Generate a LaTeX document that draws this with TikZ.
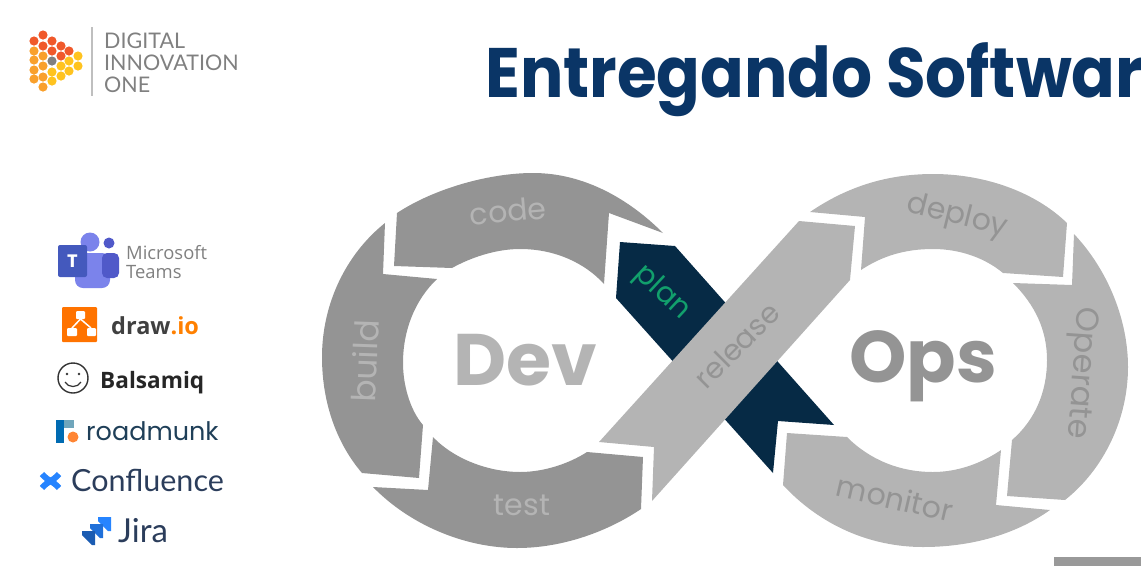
\documentclass[tikz,border=0pt]{standalone}
\usepackage{fontspec}
\setmainfont{Poppins}
\newfontfamily\lato{Lato}
\newfontfamily\opensans{Open Sans}
\definecolor{segdark}{HTML}{949494}
\definecolor{seglight}{HTML}{B4B4B4}
\definecolor{navy}{HTML}{062A45}
\definecolor{planGreen}{HTML}{12A06C}
\definecolor{titleBlue}{HTML}{0A3566}
\definecolor{logoRed}{HTML}{F0592B}
\definecolor{logoOrange}{HTML}{F9A02C}
\definecolor{logoYellow}{HTML}{FFC31F}
\definecolor{teamsLight}{HTML}{7B83EB}
\definecolor{teamsDark}{HTML}{5059C9}
\definecolor{teamsSquare}{HTML}{4459BD}
\definecolor{atlasText}{HTML}{2B3D5B}
\definecolor{atlasBlue}{HTML}{2684FF}
\newcommand{\fsize}[1]{\fontsize{#1}{#1}\selectfont}
\tikzset{
    seglabel/.style={inner sep=0pt, font=\fsize{30}},
    toolname/.style={anchor=base west, inner sep=0pt},
}
\begin{document}
\begin{tikzpicture}[x=1pt, y=-1pt]
    \useasboundingbox (0,0) rectangle (1141,566);

    % logo
    \foreach \px/\py/\dotcol in {
        34/41/logoRed, 43/35/logoRed, 43/46/logoRed, 52/41/logoRed, 52/51/logoRed,
        61/46/logoRed, 61/56/logoRed, 69/51/logoRed,
        34/51/logoOrange, 34/60/logoOrange, 34/70/logoOrange, 34/79/logoOrange,
        43/56/logoOrange, 43/66/logoOrange, 43/77/logoOrange, 43/87/logoOrange,
        52/61/gray, 52/72/logoYellow, 52/81/logoYellow, 61/66/logoYellow, 61/76/logoYellow,
        69/61/logoYellow, 69/71/logoYellow, 78/56/logoYellow, 78/66/logoYellow}
        \fill [\dotcol] (\px,\py) circle (4.6);
    \draw [black!25, line width=1.2pt] (92,27) -- (92,96);
    \node [toolname, text=black!50, font=\lato\fsize{21.5}] (digital) at (104,48) {DIGITAL};
    \node [toolname, text=black!50, font=\lato\fsize{21.5}] (innovation) at (104,70) {INNOVATION};
    \node [toolname, text=black!50, font=\lato\fsize{21.5}] (one) at (104,92) {ONE};

    \node [toolname, text=titleBlue, font=\bfseries\fsize{70}, xscale=0.92] (title) at (485,97) {Entregando Softwar};

    % tools
    \fill [rounded corners=8pt, fill=teamsLight] (75,253) rectangle (110,288);
    \fill [rounded corners=5pt, fill=teamsDark] (102,253) rectangle (119,278);
    \fill [teamsLight] (90,242) circle (9.5);
    \fill [teamsDark] (109,243) circle (5.5);
    \fill [rounded corners=2pt, fill=teamsSquare] (58,245) rectangle (87,277);
    \node [inner sep=0pt, text=white, font=\bfseries\fsize{18}] (teamsT) at (72.5,261) {T};
    \node [toolname, text=black!50, font=\opensans\fsize{18.4}] (microsoft) at (126,259) {Microsoft};
    \node [toolname, text=black!50, font=\opensans\fsize{18.4}] (teams) at (126,278) {Teams};

    \fill [rounded corners=1pt, fill=orange!90!red] (62,307) rectangle (97,342);
    \fill [white, rounded corners=1pt] (76,311) rectangle (85,319);
    \fill [white, rounded corners=1pt] (67,328) rectangle (77,336);
    \fill [white, rounded corners=1pt] (87,328) rectangle (96,336);
    \draw [white, line width=1.5pt] (72,328) -- (80.5,319) -- (91,328);
    \node [toolname, font=\opensans\bfseries\fsize{23.5}] (drawio) at (111,334) {\textcolor{black!75}{draw}\textcolor{orange}{.io}};

    \draw [black!80, line width=1.4pt] (73,378) circle (15);
    \fill [black!80] (67,374) circle (1.3) (79,374) circle (1.3);
    \draw [black!80, line width=1.2pt] (65,382) .. controls (68,388) and (78,388) .. (81,382);
    \node [toolname, text=black!85, font=\opensans\bfseries\fsize{22.6}] (balsamiq) at (100,388) {Balsamiq};

    \fill [blue!40!cyan!70!black] (56,420) rectangle (64,443);
    \fill [cyan!60!black!70] (64,420) rectangle (74,428);
    \fill [orange!80!red!80] (73,437) circle (5.5);
    \node [toolname, text=navy!90, font=\fsize{25.5}] (roadmunk) at (86,440) {roadmunk};

    \draw [atlasBlue, line width=6pt] (42,488) .. controls (49,480) and (52,482) .. (59,474);
    \draw [atlasBlue, line width=6pt] (42,474) .. controls (49,482) and (52,480) .. (59,488);
    \node [toolname, text=atlasText, font=\lato\fsize{30.5}] (confluence) at (71,491) {Confluence};

    \foreach \px/\py/\tilecol in {98/517/atlasBlue, 90/524/atlasBlue!85!black, 82/531/atlasBlue!70!black}
        \fill [\tilecol] (\px,\py) -- ++(13,0) -- ++(0,14) -- ++(-3,0) -- ++(-10,-10) -- cycle;
    \node [toolname, text=atlasText, font=\lato\fsize{33}] (jira) at (118,542) {Jira};

    % infinity
    \fill [navy] (620,242) -- (675,246) -- (834,425) -- (778,421) -- (773,473) -- (616,298) -- cycle;
    \fill [seglight] (599,442) -- (654,447) -- (652,501) -- (850,280) -- (855,226) -- (799,221) -- cycle;

    \fill [segdark] (397,213) .. controls (435,188) and (490,173) .. (533,173)
        .. controls (585,173) and (630,200) .. (663,233) -- (609,213) -- (604,284)
        .. controls (585,263) and (555,249) .. (520,249)
        .. controls (495,249) and (470,258) .. (452,268) -- (394,266) -- cycle;
    \fill [segdark] (385,223) .. controls (345,255) and (322,305) .. (322,357)
        .. controls (322,405) and (338,445) .. (362,473) -- (419,478) -- (423,425)
        .. controls (410,410) and (403,385) .. (403,363)
        .. controls (403,330) and (415,300) .. (437,279) -- (383,274) -- cycle;
    \fill [segdark] (373,487) .. controls (410,525) and (465,548) .. (517,548)
        .. controls (565,548) and (610,530) .. (641,509) -- (643,457) -- (587,452)
        .. controls (570,463) and (545,472) .. (520,472)
        .. controls (490,472) and (455,460) .. (433,437) -- (428,490) -- cycle;
    \fill [seglight] (810,212) .. controls (845,188) and (885,174) .. (933,174)
        .. controls (985,174) and (1035,192) .. (1067,223) -- (1063,277) -- (1003,273)
        .. controls (985,258) and (960,249) .. (933,249)
        .. controls (905,249) and (882,256) .. (861,270) -- (865,217) -- cycle;
    \fill [seglight] (1074,234) .. controls (1108,270) and (1128,320) .. (1128,367)
        .. controls (1128,420) and (1103,470) .. (1065,500) -- (1007,496) -- (1012,440)
        .. controls (1035,420) and (1047,392) .. (1047,360)
        .. controls (1047,330) and (1035,305) .. (1013,283) -- (1072,285) -- cycle;
    \fill [seglight] (1050,510) .. controls (1015,535) and (970,547) .. (923,547)
        .. controls (870,547) and (820,525) .. (783,485) -- (787,433) -- (847,437)
        .. controls (870,460) and (900,472) .. (933,472)
        .. controls (958,472) and (982,463) .. (1001,450) -- (996,505) -- cycle;

    \node [seglabel, text=seglight, rotate=5] (code) at (508,211) {code};
    \node [seglabel, text=seglight, rotate=88, font=\fsize{33}] (build) at (365,361) {build};
    \node [seglabel, text=seglight] (test) at (522,505) {test};
    \node [seglabel, text=planGreen, rotate=-43, font=\fsize{29}] (plan) at (662,293) {plan};
    \node [seglabel, text=segdark, rotate=45, font=\fsize{29}] (release) at (737,345) {release};
    \node [seglabel, text=segdark, rotate=-14] (deploy) at (957,217) {deploy};
    \node [seglabel, text=segdark, rotate=-94, font=\fsize{32}] (operate) at (1080,373) {Operate};
    \node [seglabel, text=segdark, rotate=-13] (monitor) at (895,498) {monitor};

    \node [inner sep=0pt, text=seglight, font=\bfseries\fsize{73}] (dev) at (525,360) {Dev};
    \node [inner sep=0pt, text=segdark, font=\bfseries\fsize{73}] (ops) at (923,366) {Ops};

    \fill [black!40] (1054,557) rectangle (1141,566);
\end{tikzpicture}
\end{document}
